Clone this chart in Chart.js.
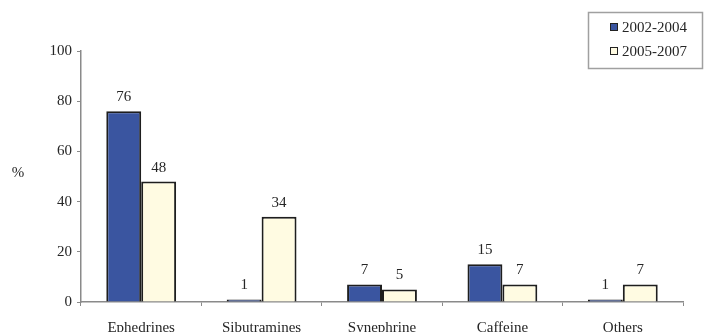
<!DOCTYPE html>
<html>
<head>
<meta charset="utf-8">
<script src="https://cdn.jsdelivr.net/npm/chart.js@4"></script>
<style>
html,body{margin:0;padding:0;background:#fff;}
#wrap{width:710px;height:332px;position:relative;}
</style>
</head>
<body>
<div id="wrap"><canvas id="c" width="710" height="332"></canvas></div>
<script>
const categories = ["Ephedrines", "Sibutramines", "Synephrine", "Caffeine", "Others"];
const series1Label = "2002-2004";
const series1 = [76, 1, 7, 15, 1];
const series2Label = "2005-2007";
const series2 = [48, 34, 5, 7, 7];
const yTicks = [0, 20, 40, 60, 80, 100];
const yTitle = "%";

const FONT = "'Liberation Serif', 'Times New Roman', serif";
const TEXT = "#262626";
const AXIS = "#8a8a8a";

const valueLabels = {
  id: 'valueLabels',
  afterDatasetsDraw(chart) {
    const ctx = chart.ctx;
    ctx.save();
    ctx.font = "15px " + FONT;
    ctx.fillStyle = TEXT;
    ctx.textAlign = 'center';
    ctx.textBaseline = 'alphabetic';
    chart.data.datasets.forEach((ds, i) => {
      chart.getDatasetMeta(i).data.forEach((bar, j) => {
        ctx.fillText(String(ds.data[j]), bar.x, bar.y - 10);
      });
    });
    ctx.restore();
  }
};

const yAxisTitle = {
  id: 'yAxisTitle',
  afterDraw(chart) {
    const ctx = chart.ctx;
    const a = chart.chartArea;
    ctx.save();
    ctx.font = "15px " + FONT;
    ctx.fillStyle = TEXT;
    ctx.textAlign = 'center';
    ctx.textBaseline = 'middle';
    ctx.fillText(yTitle, 18, (a.top + a.bottom) / 2 - 3);
    ctx.restore();
  }
};

const boxLegend = {
  id: 'boxLegend',
  afterDraw(chart) {
    const ctx = chart.ctx;
    ctx.save();
    ctx.strokeStyle = "#a0a0a0";
    ctx.lineWidth = 1.5;
    ctx.strokeRect(588.5, 12.5, 114, 56);
    ctx.font = "15px " + FONT;
    ctx.textBaseline = 'middle';
    ctx.textAlign = 'left';
    chart.data.datasets.forEach((ds, i) => {
      const y = 27 + i * 24;
      ctx.fillStyle = ds.backgroundColor;
      ctx.fillRect(610, y - 4, 8, 8);
      ctx.strokeStyle = "#222";
      ctx.lineWidth = 1;
      ctx.strokeRect(610.5, y - 3.5, 7, 7);
      ctx.fillStyle = TEXT;
      ctx.fillText(ds.label, 622, y + 1);
    });
    ctx.restore();
  }
};

new Chart(document.getElementById('c'), {
  type: 'bar',
  data: {
    labels: categories,
    datasets: [
      { label: series1Label, data: series1, backgroundColor: "#3a55a0", borderColor: "#1e1e1e", borderWidth: 2,
        categoryPercentage: 0.58, barPercentage: 1.0 },
      { label: series2Label, data: series2, backgroundColor: "#fffbe2", borderColor: "#1e1e1e", borderWidth: 2,
        categoryPercentage: 0.58, barPercentage: 1.0 }
    ]
  },
  options: {
    responsive: false,
    animation: false,
    devicePixelRatio: 1,
    layout: { padding: { top: 51, right: 27, left: 0, bottom: 0 } },
    plugins: { legend: { display: false }, tooltip: { enabled: false } },
    scales: {
      x: {
        grid: { display: true, drawOnChartArea: false, drawTicks: true, tickLength: 4, color: AXIS, offset: true },
        border: { display: true, color: AXIS, width: 1.5 },
        ticks: { font: { family: FONT, size: 15 }, color: TEXT, padding: 13, maxRotation: 0, autoSkip: false },
        afterFit(s) { s.height = 30; }
      },
      y: {
        min: 0, max: 100,
        afterBuildTicks(s) { s.ticks = yTicks.map(v => ({ value: v })); },
        grid: { display: true, drawOnChartArea: false, drawTicks: true, tickLength: 4, color: AXIS },
        border: { display: true, color: AXIS, width: 1.5 },
        ticks: { font: { family: FONT, size: 15 }, color: TEXT, padding: 5 },
        afterFit(s) { s.width = 81; }
      }
    }
  },
  plugins: [valueLabels, yAxisTitle, boxLegend]
});
</script>
</body>
</html>
